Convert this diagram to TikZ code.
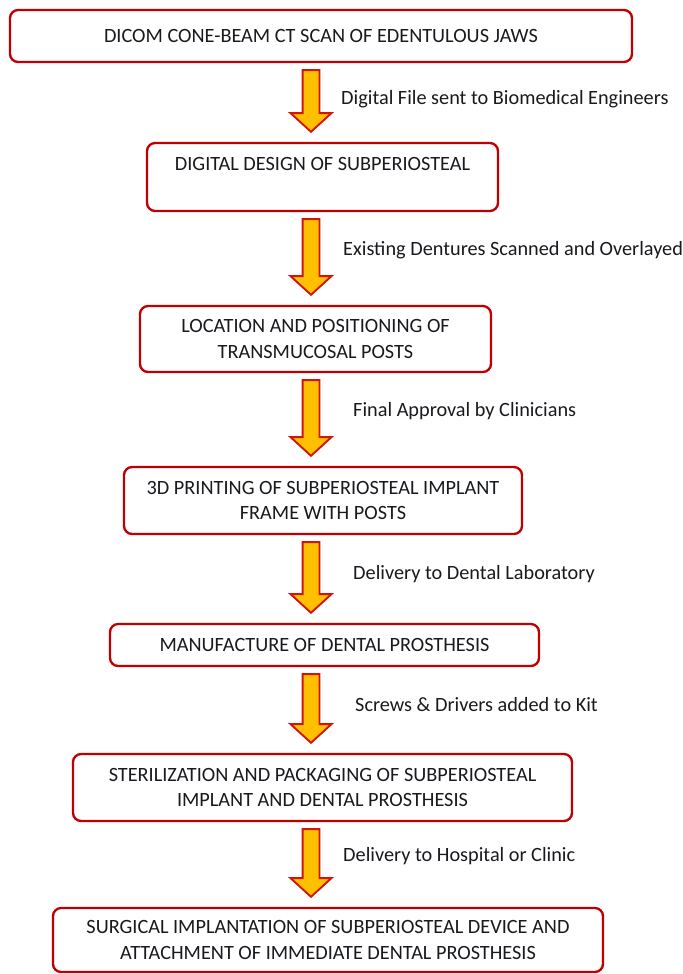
\documentclass[tikz,border=0pt]{standalone}
\usepackage{fontspec}
\setmainfont{Carlito}
\usepackage{xcolor}
\usetikzlibrary{calc}
\definecolor{boxred}{RGB}{192,0,0}
\definecolor{arrowred}{RGB}{210,20,10}
\definecolor{arrowgold}{RGB}{255,192,0}
\definecolor{textdark}{RGB}{25,25,30}
\tikzset{
  % 流程框
  stage/.style={
    draw=boxred,
    line width=2pt,
    rounded corners=7pt,
    inner sep=0pt,
    align=center,
    text=textdark,
    font=\fontsize{17.3}{22}\selectfont
  },
  % 箭头旁的说明
  steplabel/.style={anchor=west, inner sep=0pt, text=textdark, font=\fontsize{17.3}{20}\selectfont},
  % 粗箭头
  blockarr/.style={fill=arrowgold, draw=arrowred, line width=1.6pt, line join=miter},
}
% 两个框之间的粗箭头
\newcommand{\flowarrow}[2]{%
  \filldraw[blockarr] let \p1=($(#1.south -| ax)+(0,7)$), \p2=($(#2.north -| ax)+(0,-10)$) in
    (\x1-7.2pt,\y1) -- (\x1+7.2pt,\y1) -- (\x1+7.2pt,\y2+16pt)
      -- (\x1+17.5pt,\y2+16pt) -- (\x1,\y2) -- (\x1-17.5pt,\y2+16pt)
      -- (\x1-7.2pt,\y2+16pt) -- cycle;
}
\begin{document}
\begin{tikzpicture}[x=0.03cm, y=-0.03cm]
    \useasboundingbox (0,0) rectangle (683,974);
    \coordinate (ax) at (311,0);

    % 流程框
    \node[stage, minimum width=18.66cm, minimum height=1.56cm] (b1) at (321,36)
        {DICOM CONE-BEAM CT SCAN OF EDENTULOUS JAWS};
    \node[stage, minimum width=10.53cm, minimum height=2.04cm] (b2) at (322.5,177)
        {DIGITAL DESIGN OF SUBPERIOSTEAL\\ ~};
    \node[stage, minimum width=10.53cm, minimum height=1.98cm] (b3) at (315.5,339)
        {LOCATION AND POSITIONING OF\\ TRANSMUCOSAL POSTS};
    \node[stage, minimum width=11.94cm, minimum height=2.01cm] (b4) at (323,500.5)
        {3D PRINTING OF SUBPERIOSTEAL IMPLANT\\ FRAME WITH POSTS};
    \node[stage, minimum width=12.87cm, minimum height=1.26cm] (b5) at (324.5,645)
        {MANUFACTURE OF DENTAL PROSTHESIS};
    \node[stage, minimum width=14.97cm, minimum height=2.01cm] (b6) at (322.5,787.5)
        {STERILIZATION AND PACKAGING OF SUBPERIOSTEAL\\ IMPLANT AND DENTAL PROSTHESIS};
    \node[stage, minimum width=16.5cm, minimum height=1.92cm] (b7) at (328,940)
        {SURGICAL IMPLANTATION OF SUBPERIOSTEAL DEVICE AND\\ ATTACHMENT OF IMMEDIATE DENTAL PROSTHESIS};

    % 箭头
    \flowarrow{b1}{b2}
    \flowarrow{b2}{b3}
    \flowarrow{b3}{b4}
    \flowarrow{b4}{b5}
    \flowarrow{b5}{b6}
    \flowarrow{b6}{b7}

    % 说明文字
    \node[steplabel] (l1) at (341,99) {Digital File sent to Biomedical Engineers};
    \node[steplabel] (l2) at (343,250) {Existing Dentures Scanned and Overlayed};
    \node[steplabel] (l3) at (353,411) {Final Approval by Clinicians};
    \node[steplabel] (l4) at (353,574) {Delivery to Dental Laboratory};
    \node[steplabel] (l5) at (355,705) {Screws \& Drivers added to Kit};
    \node[steplabel] (l6) at (343,856) {Delivery to Hospital or Clinic};
\end{tikzpicture}
\end{document}
